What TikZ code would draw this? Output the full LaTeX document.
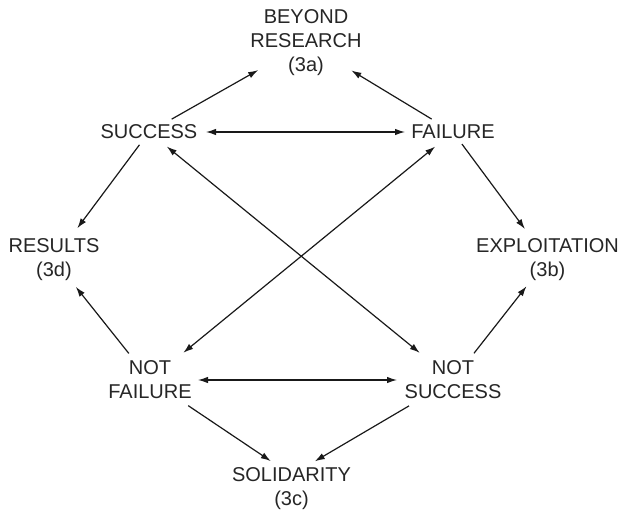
\documentclass[tikz,border=0pt]{standalone}
\usepackage{fontspec}
\setmainfont{Liberation Sans}
\usetikzlibrary{arrows.meta}
\begin{document}
\begin{tikzpicture}[x=1pt,y=-1pt,
  lbl/.style={align=center, inner sep=0pt, font=\fontsize{20}{24}\selectfont, text=black!85},
  con/.style={line width=1.2pt, draw=black!90, -{Latex[length=10pt,width=6.5pt]}},
  dcon/.style={line width=1.2pt, draw=black!90, {Latex[length=10pt,width=6.5pt]}-{Latex[length=10pt,width=6.5pt]}}]
\useasboundingbox[fill=white] (0,0) rectangle (623,516);
\node[lbl] (beyond) at (306,43) {BEYOND\\RESEARCH\\(3a)};
\node[lbl] (succ) at (149,132) {SUCCESS};
\node[lbl] (fail) at (453,132) {FAILURE};
\node[lbl] (res) at (54,259.5) {RESULTS\\(3d)};
\node[lbl] (expl) at (547.5,259.5) {EXPLOITATION\\(3b)};
\node[lbl] (nfail) at (150,380) {NOT\\FAILURE};
\node[lbl] (nsucc) at (453,380) {NOT\\SUCCESS};
\node[lbl] (sol) at (291.5,489) {SOLIDARITY\\(3c)};
\coordinate (solt) at ([yshift=14pt]sol.center);
% top
\draw[con, shorten <=26pt, shorten >=55pt] (succ.center) -- (beyond.center);
\draw[con, shorten <=25pt, shorten >=53pt] (fail.center) -- (beyond.center);
\draw[dcon, shorten <=57pt, shorten >=48pt] (succ.center) -- (fail.center);
% sides
\draw[con, shorten <=16pt, shorten >=39pt] (succ.center) -- (res.center);
\draw[con, shorten <=15pt, shorten >=38pt] (fail.center) -- (expl.center);
\draw[con, shorten <=34pt, shorten >=35pt] (nfail.center) -- (res.center);
\draw[con, shorten <=34pt, shorten >=34pt] (nsucc.center) -- (expl.center);
% bottom
\draw[dcon, shorten <=48pt, shorten >=56pt] (nfail.center) -- (nsucc.center);
\draw[con, shorten <=46pt, shorten >=25pt] (nfail.center) -- (solt);
\draw[con, shorten <=51pt, shorten >=27pt] (nsucc.center) -- (solt);
% cross
\draw[dcon, shorten <=23pt, shorten >=43pt] (succ.center) -- (nsucc.center);
\draw[dcon, shorten <=23pt, shorten >=43pt] (fail.center) -- (nfail.center);
\end{tikzpicture}
\end{document}
